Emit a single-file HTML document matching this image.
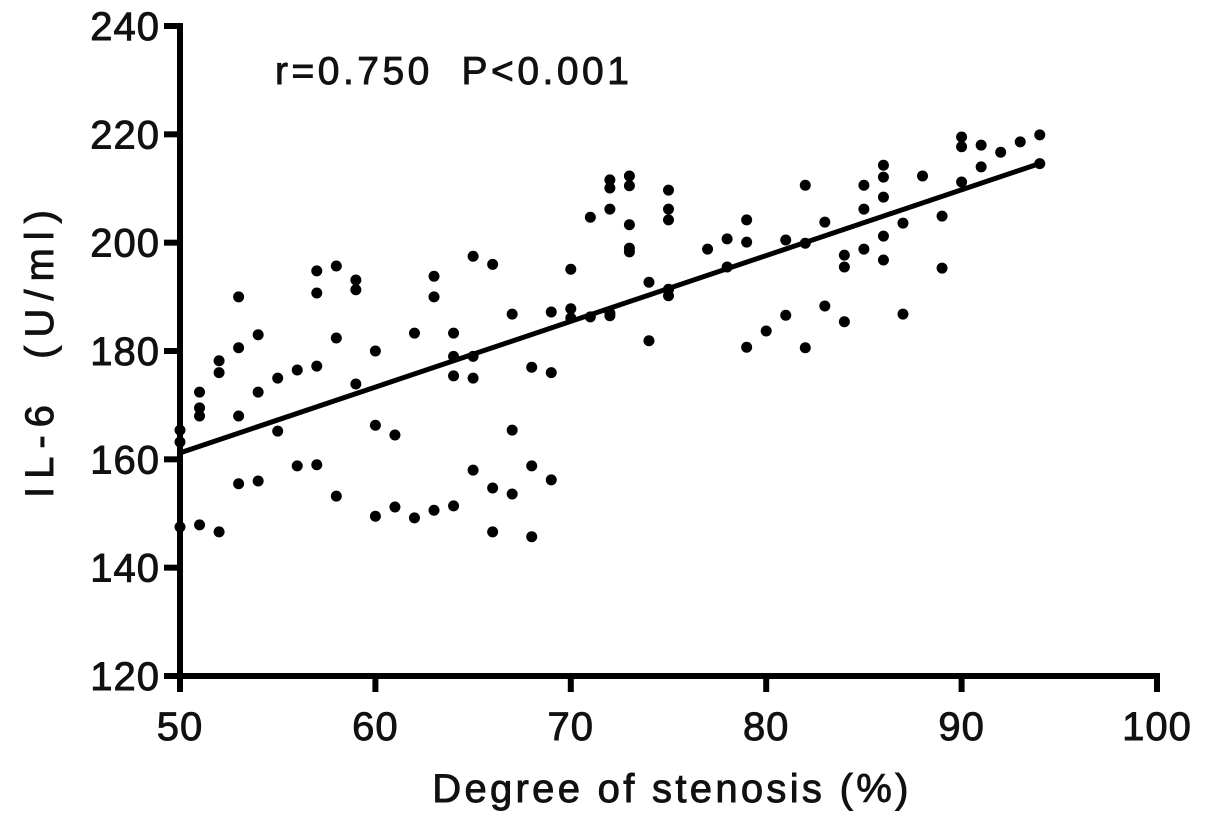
<!DOCTYPE html>
<html><head><meta charset="utf-8"><style>
html,body{margin:0;padding:0;background:#fff;}
svg{display:block;font-family:"Liberation Sans",Arial,sans-serif;}
text{stroke:#111;stroke-width:0.9px;}
</style></head><body>
<svg id="chart" width="1205" height="822" viewBox="0 0 1205 822">
<g id="axes"></g><g id="dots"></g>
<text x="275" y="84" font-size="39" letter-spacing="3.5" fill="#111" xml:space="preserve">r=0.750  P&lt;0.001</text>
<text x="672" y="802" font-size="40" letter-spacing="3.3" text-anchor="middle" fill="#111">Degree of stenosis (%)</text>
<text transform="translate(53,350) rotate(-90)" font-size="40" letter-spacing="8" text-anchor="middle" fill="#111" xml:space="preserve">IL-6  (U/ml)</text>
</svg>
<script>
const xTicks=[50,60,70,80,90,100];
const yTicks=[120,140,160,180,200,220,240];
const ptsX=[50,50,50,51,51,51,51,52,52,52,53,53,53,53,54,54,54,55,55,56,56,57,57,57,57,58,58,58,59,59,59,60,60,60,61,61,62,62,63,63,63,64,64,64,64,65,65,65,65,66,66,66,67,67,67,68,68,68,69,69,69,70,70,70,71,71,72,72,72,72,72,73,73,73,73,73,74,74,75,75,75,75,75,77,78,78,79,79,79,80,81,81,82,82,82,83,83,84,84,84,85,85,85,86,86,86,86,86,87,87,88,89,89,90,90,90,91,91,92,93,94,94];
const ptsY=[165.4,163.2,147.5,172.4,169.5,168,147.9,178.2,176,146.6,190,180.6,168,155.5,183,172.4,156,175,165.2,176.5,158.8,194.8,190.7,177.2,159,195.7,182.4,153.2,193.1,191.3,173.9,180,166.3,149.5,164.5,151.2,183.3,149.2,193.8,190,150.6,183.3,179,175.4,151.4,197.5,179,175,158,196,154.7,146.6,186.8,165.4,153.6,177,158.8,145.7,187.2,176,156.2,195.1,187.8,186.1,204.7,186.3,211.6,210.1,206.2,187,186.5,212.3,210.5,203.3,199,198.3,192.7,181.9,209.7,206.2,204.2,191.4,190.2,198.8,200.7,195.5,204.2,200.1,180.7,183.7,200.5,186.6,210.6,199.9,180.6,203.8,188.3,197.7,195.5,185.4,210.6,206.2,198.8,214.3,212.1,208.4,201.2,196.8,203.6,186.8,212.3,204.9,195.3,219.5,217.7,211.2,218,214,216.7,218.6,219.9,214.6];
const fitLine=[1.214,100.5];
const fitRange=[50,94];
const NS='http://www.w3.org/2000/svg';
const X0=180,X1=1157,Y0=676,Y1=26;
const sx=v=>X0+(v-50)/50*(X1-X0);
const sy=v=>Y0-(v-120)/120*(Y0-Y1);
function mk(t,a,p){const e=document.createElementNS(NS,t);for(const k in a)e.setAttribute(k,a[k]);p.appendChild(e);return e;}
const ax=document.getElementById('axes'),dg=document.getElementById('dots');
let e=mk('line',{x1:X0,y1:Y1-3,x2:X0,y2:Y0+3,stroke:'#000','stroke-width':6},ax);


e=mk('line',{x1:X0-3,y1:Y0,x2:X1+3,y2:Y0,stroke:'#000','stroke-width':6},ax);


yTicks.forEach(v=>{
 const t=mk('line',{x1:X0-16,x2:X0,y1:sy(v),y2:sy(v),stroke:'#000','stroke-width':6},ax);
 
 
 const l=mk('text',{x:160,y:sy(v)+14,'font-size':40,'letter-spacing':1,'text-anchor':'end',fill:'#111'},ax);l.textContent=v;
 
 
});
xTicks.forEach(v=>{
 const t=mk('line',{x1:sx(v),x2:sx(v),y1:Y0,y2:Y0+16,stroke:'#000','stroke-width':6},ax);
 
 
 const l=mk('text',{x:sx(v),y:740,'font-size':40,'letter-spacing':1,'text-anchor':'middle',fill:'#111'},ax);l.textContent=v;
 
 
});
ptsX.forEach((x,i)=>{
 const c=mk('circle',{cx:sx(x),cy:sy(ptsY[i]),r:5.5,fill:'#000'},dg);
 
 
});
const f=v=>fitLine[0]*v+fitLine[1];
e=mk('line',{x1:sx(fitRange[0]),y1:sy(f(fitRange[0])),x2:sx(fitRange[1]),y2:sy(f(fitRange[1])),stroke:'#000','stroke-width':5},dg);


</script>
</body></html>
